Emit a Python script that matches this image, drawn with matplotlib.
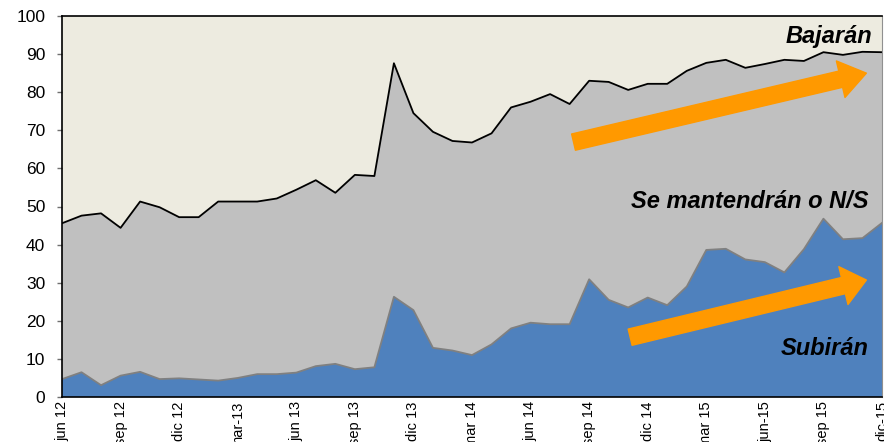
import matplotlib
matplotlib.use("Agg")
import matplotlib.pyplot as plt
import numpy as np

plt.rcParams['font.family'] = ['Liberation Sans', 'DejaVu Sans']

# Monthly survey, jun 2012 - dic 2015 (% of answers)
subiran = [4.7, 6.5, 3.1, 5.6, 6.6, 4.7, 4.9, 4.6, 4.3, 5.0, 6.0, 6.0, 6.4,
           8.1, 8.7, 7.3, 7.8, 26.3, 22.8, 12.9, 12.2, 11.0, 13.8, 18.0, 19.5,
           19.1, 19.1, 30.9, 25.5, 23.5, 26.1, 24.1, 29.0, 38.6, 38.9, 36.1,
           35.4, 32.7, 38.8, 46.8, 41.4, 41.7, 45.7]
# cumulative share: Subirán + Se mantendrán o N/S
acumulado = [45.6, 47.6, 48.2, 44.4, 51.3, 49.8, 47.2, 47.2, 51.3, 51.3, 51.3,
             52.1, 54.4, 56.9, 53.6, 58.3, 58.0, 87.6, 74.5, 69.6, 67.2, 66.8,
             69.2, 76.0, 77.5, 79.5, 76.9, 83.0, 82.7, 80.6, 82.2, 82.2, 85.6,
             87.7, 88.5, 86.4, 87.4, 88.5, 88.2, 90.5, 89.8, 90.6, 90.5]
mantendran = [a - s for a, s in zip(acumulado, subiran)]
bajaran = [100 - a for a in acumulado]

tick_labels = ["jun 12", "sep 12", "dic 12", "mar-13", "jun 13", "sep 13",
               "dic 13", "mar 14", "jun 14", "sep 14", "dic 14", "mar 15",
               "jun-15", "sep 15", "dic-15"]

x = np.arange(len(subiran))

fig = plt.figure(figsize=(8.84, 4.42), dpi=100)
ax = fig.add_axes([62 / 884, 45 / 442, 820 / 884, 381 / 442])

ax.stackplot(x, subiran, mantendran, bajaran,
             colors=["#4F81BD", "#C0C0C0", "#EDEBE0"], linewidth=0)
ax.plot(x, subiran, color="#808080", lw=1.3)
ax.plot(x, acumulado, color="black", lw=1.3)

ax.set_xlim(0, len(x) - 1)
ax.set_ylim(0, 100)
ax.set_yticks(np.arange(0, 101, 10))
ax.set_xticks(x[::3])
ax.set_xticklabels(tick_labels, rotation=90, fontsize=10.5)
ax.tick_params(axis='y', labelsize=12.5, length=3.6, width=1, pad=8.5,
               color="#707070")
ax.tick_params(axis='x', length=0, pad=3)

for side in ["left", "bottom", "top"]:
    ax.spines[side].set_linewidth(1.2)
    ax.spines[side].set_color("black")
ax.spines["right"].set_color("#909090")

orange = "#FF9900"
ax.annotate("", xy=(41.2, 85.0), xytext=(26.2, 66.9),
            arrowprops=dict(arrowstyle="simple,head_length=19,head_width=27,tail_width=12",
                            mutation_scale=1, color=orange, shrinkA=0, shrinkB=0))
ax.annotate("", xy=(41.2, 30.7), xytext=(29.1, 15.7),
            arrowprops=dict(arrowstyle="simple,head_length=17,head_width=28,tail_width=12",
                            mutation_scale=1, color=orange, shrinkA=0, shrinkB=0))

txt = dict(fontsize=17, fontweight="bold", fontstyle="italic", color="black")
ax.text(41.5, 94.6, "Bajarán", ha="right", va="center", **txt)
ax.text(41.3, 51.4, "Se mantendrán o N/S", ha="right", va="center", **txt)
ax.text(41.3, 12.6, "Subirán", ha="right", va="center", **txt)

fig.savefig("out.png", dpi=100)
